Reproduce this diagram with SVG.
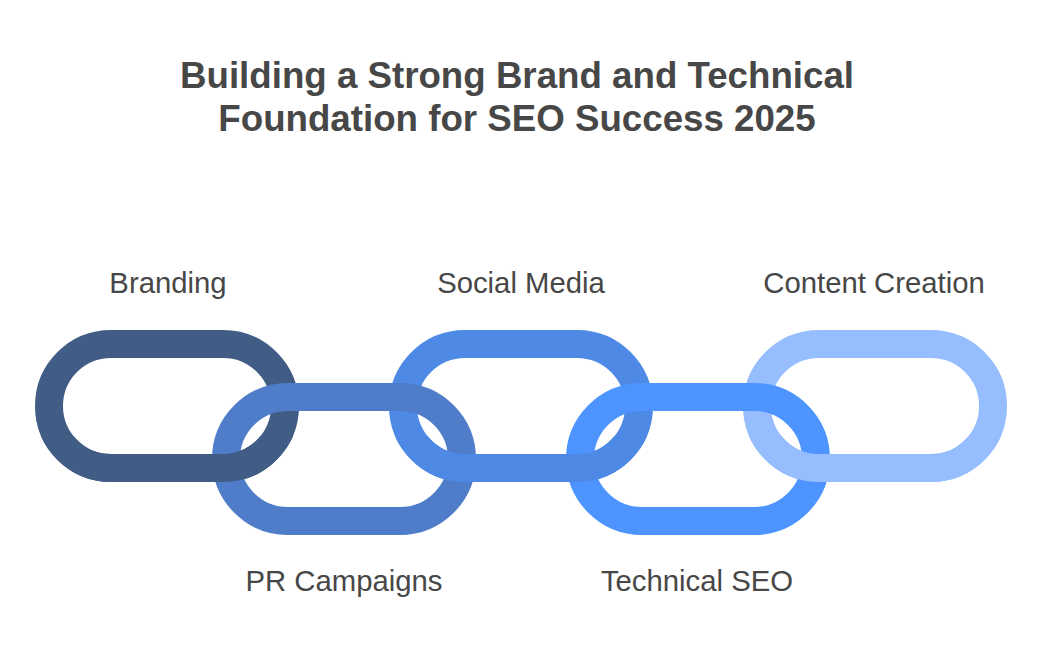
<svg xmlns="http://www.w3.org/2000/svg" width="1043" height="672" viewBox="0 0 1043 672">
<style>
.title{font-family:"Liberation Sans",Arial,sans-serif;font-weight:bold;font-size:36.7px;fill:#474747;text-anchor:middle}
.label{font-family:"Liberation Sans",Arial,sans-serif;font-size:29.3px;fill:#474747;text-anchor:middle}
.link{fill:none;stroke-width:28}
</style>
<defs>
<clipPath id="bottomClip"><rect x="0" y="436" width="1043" height="60"/></clipPath>
</defs>
<rect width="1043" height="672" fill="#ffffff"/>
<text class="title" x="517" y="88">Building a Strong Brand and Technical</text>
<text class="title" x="517" y="131">Foundation for SEO Success 2025</text>
<g id="connectors">
<g id="link-branding"><rect class="link" stroke="#415C85" x="49" y="344" width="236" height="124" rx="62" ry="62"/></g>
<g id="link-social-media"><rect class="link" stroke="#4D89E5" x="403" y="344" width="236" height="124" rx="62" ry="62"/></g>
<g id="link-content-creation"><rect class="link" stroke="#96BEFF" x="757" y="344" width="236" height="124" rx="62" ry="62"/></g>
<g id="link-pr-campaigns"><rect class="link" stroke="#4F7DC9" x="226" y="397" width="236" height="124" rx="62" ry="62"/></g>
<g id="link-technical-seo"><rect class="link" stroke="#4D94FF" x="580" y="397" width="236" height="124" rx="62" ry="62"/></g>
<g id="overlaps" clip-path="url(#bottomClip)">
<rect class="link" stroke="#415C85" x="49" y="344" width="236" height="124" rx="62" ry="62"/>
<rect class="link" stroke="#4D89E5" x="403" y="344" width="236" height="124" rx="62" ry="62"/>
<rect class="link" stroke="#96BEFF" x="757" y="344" width="236" height="124" rx="62" ry="62"/>
</g>
</g>
<g id="node-branding"><text class="label" x="168" y="293">Branding</text></g>
<g id="node-social-media"><text class="label" x="521" y="293">Social Media</text></g>
<g id="node-content-creation"><text class="label" x="874" y="293">Content Creation</text></g>
<g id="node-pr-campaigns"><text class="label" x="344" y="591">PR Campaigns</text></g>
<g id="node-technical-seo"><text class="label" x="697" y="591">Technical SEO</text></g>
</svg>
